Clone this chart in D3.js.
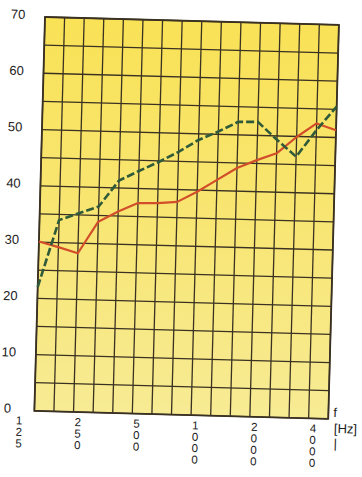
<!DOCTYPE html>
<html>
<head>
<meta charset="utf-8">
<script src="https://cdn.jsdelivr.net/npm/d3@7"></script>
<style>
  html, body { margin: 0; padding: 0; background: #ffffff; }
  svg { display: block; }
  text { font-family: "Liberation Sans", Arial, sans-serif; fill: #222; }
</style>
</head>
<body>
<script>
// 1/3-octave band centre frequencies (Hz)
const bands = ["125","160","200","250","315","400","500","630","800","1000","1250","1600","2000","2500","3150","4000"];
// labelled bands on the frequency axis
const freqLabels = ["125","250","500","1000","2000","4000"];
// level ticks (dB)
const yTicks = [0,10,20,30,40,50,60,70];
// dashed dark-green curve
const greenSeries = [22.0, 34.0, 35.3, 36.6, 41.3, 43.1, 44.8, 46.7, 48.9, 50.5, 52.3, 52.4, 49.3, 46.4, 51.2, 55.5];
// solid red curve
const redSeries   = [30.1, 29.2, 28.2, 33.9, 35.8, 37.4, 37.5, 37.8, 39.7, 41.9, 44.1, 45.6, 46.9, 49.9, 52.4, 51.3];

const W = 362, H = 477;
const pw = 294, ph = 394;

const svg = d3.select("body").append("svg").attr("width", W).attr("height", H);

const defs = svg.append("defs");
const grad = defs.append("linearGradient").attr("id","bg").attr("x1",0).attr("y1",0).attr("x2",0).attr("y2",1);
grad.append("stop").attr("offset","0%").attr("stop-color","#f9e256");
grad.append("stop").attr("offset","55%").attr("stop-color","#f8e676");
grad.append("stop").attr("offset","100%").attr("stop-color","#f7eb94");

const g = svg.append("g").attr("transform","translate(45,17) rotate(1.55)");

const x = d3.scalePoint().domain(bands).range([0, pw]);
const y = d3.scaleLinear().domain([0, 70]).range([ph, 0]);

g.append("rect").attr("x",0).attr("y",0).attr("width",pw).attr("height",ph).attr("fill","url(#bg)");

// vertical grid lines (one per band)
g.append("g").selectAll("line").data(bands).join("line")
  .attr("x1", d => x(d)).attr("x2", d => x(d))
  .attr("y1", 0).attr("y2", ph)
  .attr("stroke", "#3a3122").attr("stroke-width", 1.3);

// horizontal grid lines every 5 dB
g.append("g").selectAll("line").data(d3.range(0, 71, 5)).join("line")
  .attr("x1", 0).attr("x2", pw)
  .attr("y1", d => y(d)).attr("y2", d => y(d))
  .attr("stroke", "#3a3122").attr("stroke-width", 1.3);

g.append("rect").attr("x",0).attr("y",0).attr("width",pw).attr("height",ph)
  .attr("fill","none").attr("stroke","#3a3122").attr("stroke-width",1.8);

const line = d3.line().x((d,i) => x(bands[i])).y(d => y(d));

g.append("path").datum(redSeries).attr("d", line)
  .attr("fill","none").attr("stroke","#d24e2a").attr("stroke-width",2.2)
  .attr("stroke-linejoin","round");

g.append("path").datum(greenSeries).attr("d", line)
  .attr("fill","none").attr("stroke","#2f5a3a").attr("stroke-width",2.6)
  .attr("stroke-dasharray","8,3");

// y labels
g.append("g").selectAll("text").data(yTicks).join("text")
  .attr("x", -27).attr("y", d => y(d) + 2.5)
  .attr("text-anchor","middle").attr("font-size", 13)
  .text(d => d);

// x labels: stacked digits
const xl = g.append("g").selectAll("g").data(freqLabels).join("g")
  .attr("transform", d => `translate(${x(d) - 15},408)`);
xl.selectAll("text").data(d => d.split("")).join("text")
  .attr("x", 0).attr("y", (c,i) => i * 11.5)
  .attr("text-anchor","middle").attr("font-size", 11.5)
  .text(c => c);

// axis unit
g.append("text").attr("x", 299).attr("y", 392).attr("font-size", 13).text("f");
g.append("text").attr("x", 300).attr("y", 408).attr("font-size", 13).text("[Hz]");
g.append("text").attr("x", 300).attr("y", 423).attr("font-size", 13).text("|");
</script>
</body>
</html>
